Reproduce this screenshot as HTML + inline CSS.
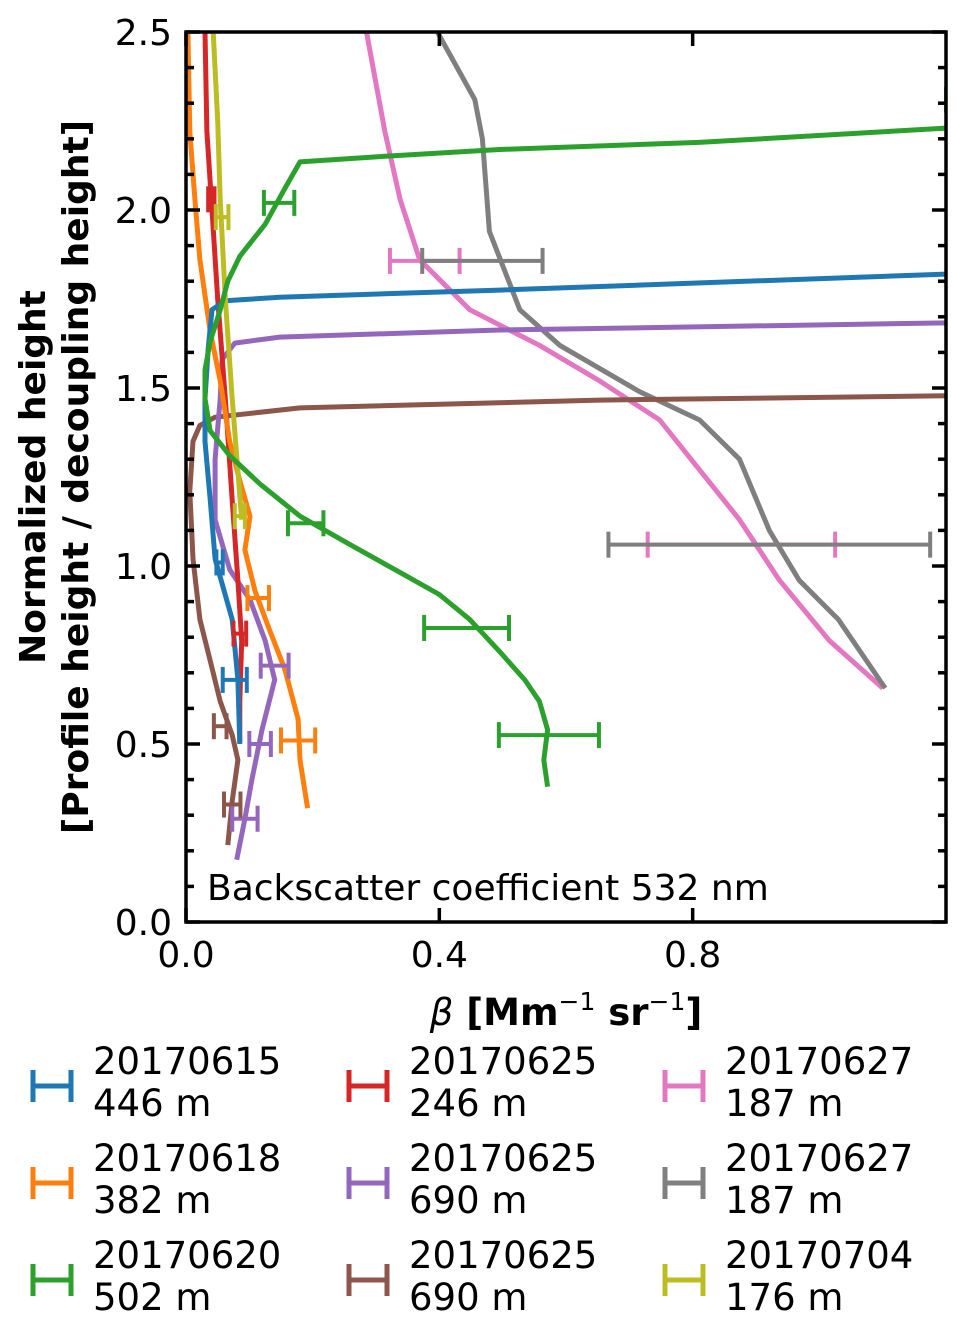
<!DOCTYPE html>
<html><head><meta charset="utf-8"><style>
body{margin:0;background:#fff;}
svg{display:block;font-family:"DejaVu Sans","Liberation Sans",sans-serif;}
</style></head><body>
<svg id="c" width="966" height="1329" xmlns="http://www.w3.org/2000/svg"></svg>
<script>
const seriesNames=["20170615","20170618","20170620","20170625","20170625","20170625","20170627","20170627","20170704"];
const seriesSub=["446 m","382 m","502 m","246 m","690 m","690 m","187 m","187 m","176 m"];
const colors=["#1f77b4","#ff7f0e","#2ca02c","#d62728","#9467bd","#8c564b","#e377c2","#7f7f7f","#bcbd22"];
const xTicks=[0.0,0.4,0.8];
const yTicks=[0.0,0.5,1.0,1.5,2.0,2.5];
const blueX=[0.085,0.082,0.073,0.046,0.038,0.03,0.03,0.035,0.041,0.062,0.148,0.495,1.2];
const blueY=[0.5,0.68,0.85,1.02,1.19,1.35,1.47,1.61,1.72,1.745,1.755,1.775,1.82];
const orangeX=[0.192,0.18,0.177,0.156,0.132,0.109,0.093,0.101,0.085,0.069,0.054,0.038,0.022,0.014,0.006,0.003];
const orangeY=[0.32,0.455,0.57,0.71,0.82,0.93,1.045,1.14,1.24,1.35,1.52,1.66,1.86,2.03,2.22,2.5];
const greenX=[0.571,0.565,0.571,0.558,0.535,0.495,0.448,0.40,0.345,0.259,0.18,0.117,0.069,0.038,0.03,0.03,0.038,0.054,0.066,0.085,0.125,0.156,0.18,0.306,0.495,0.81,1.2];
const greenY=[0.38,0.455,0.54,0.62,0.68,0.76,0.85,0.92,0.975,1.06,1.14,1.23,1.31,1.38,1.47,1.55,1.63,1.72,1.80,1.87,1.96,2.06,2.135,2.15,2.17,2.19,2.23];
const redX=[0.085,0.085,0.088,0.082,0.073,0.062,0.05,0.041,0.033,0.03];
const redY=[0.505,0.62,0.79,0.96,1.185,1.47,1.75,2.0,2.22,2.5];
const purpleX=[0.08,0.093,0.104,0.12,0.14,0.125,0.101,0.069,0.046,0.046,0.054,0.057,0.077,0.148,0.495,1.2];
const purpleY=[0.175,0.29,0.40,0.54,0.68,0.79,0.905,0.99,1.13,1.30,1.47,1.58,1.626,1.643,1.663,1.683];
const brownX=[0.066,0.073,0.082,0.073,0.054,0.038,0.022,0.011,0.006,0.011,0.022,0.046,0.18,0.653,1.2];
const brownY=[0.216,0.34,0.455,0.525,0.62,0.735,0.85,1.02,1.21,1.35,1.395,1.418,1.444,1.466,1.478];
const pinkX=[1.1,1.016,0.937,0.874,0.811,0.748,0.653,0.558,0.448,0.369,0.338,0.314,0.285];
const pinkY=[0.657,0.79,0.96,1.13,1.27,1.41,1.52,1.62,1.72,1.86,2.03,2.22,2.5];
const grayX=[1.104,1.03,0.968,0.921,0.874,0.811,0.716,0.59,0.527,0.479,0.468,0.456,0.397];
const grayY=[0.657,0.85,0.96,1.10,1.30,1.41,1.49,1.62,1.72,1.94,2.2,2.31,2.5];
const oliveX=[0.088,0.073,0.062,0.054,0.05,0.043];
const oliveY=[1.13,1.47,1.75,2.03,2.25,2.5];
const errSeries=[0,0,1,1,2,2,2,2,2,3,3,4,4,4,5,5,6,6,7,7,8,8];
const errX=[0.077,0.053,0.177,0.114,0.147,0.189,0.443,0.573,1.22,0.085,0.04,0.093,0.117,0.14,0.073,0.054,0.377,0.877,0.468,0.921,0.085,0.057];
const errY=[0.68,1.01,0.51,0.91,2.02,1.12,0.826,0.525,2.31,0.81,2.03,0.29,0.5,0.72,0.33,0.55,1.857,1.06,1.857,1.06,1.14,1.98];
const errW=[0.019,0.005,0.027,0.017,0.024,0.028,0.067,0.079,0.02,0.01,0.005,0.02,0.017,0.022,0.013,0.01,0.055,0.148,0.095,0.254,0.008,0.01];
const lines=[[blueX,blueY],[orangeX,orangeY],[greenX,greenY],[redX,redY],[purpleX,purpleY],[brownX,brownY],[pinkX,pinkY],[grayX,grayY],[oliveX,oliveY]];
const drawOrder=[6,7,5,4,3,1,0,8,2];

const NS="http://www.w3.org/2000/svg";
const svg=document.getElementById('c');
const L=186,R=946,T=32,B=922;
const sx=v=>L+v/1.2*(R-L);
const sy=v=>B-v/2.5*(B-T);
function el(tag,attrs,parent){const e=document.createElementNS(NS,tag);for(const k in attrs)e.setAttribute(k,attrs[k]);(parent||svg).appendChild(e);return e;}
const defs=el('defs',{});
const cp=el('clipPath',{id:'clip'},defs);
el('rect',{x:L,y:T,width:R-L,height:B-T},cp);
const plot=el('g',{'clip-path':'url(#clip)'});


drawOrder.forEach(i=>{
  const [xs,ys]=lines[i];
  const d=xs.map((x,j)=>(j?'L':'M')+sx(x).toFixed(1)+' '+sy(ys[j]).toFixed(1)).join(' ');
  const p=el('path',{d:d,fill:'none',stroke:colors[i],'stroke-width':5,'stroke-linejoin':'round'},plot);
  
  
});
errX.forEach((x,k)=>{
  const c=colors[errSeries[k]];
  const y=sy(errY[k]),x1=sx(x-errW[k]),x2=sx(x+errW[k]);
  const g=el('g',{stroke:c,'stroke-width':4,fill:'none'},plot);
  
  
  el('line',{x1:x1,x2:x2,y1:y,y2:y},g);
  el('line',{x1:x1,x2:x1,y1:y-13,y2:y+13},g);
  el('line',{x1:x2,x2:x2,y1:y-13,y2:y+13},g);
});
const fr=el('rect',{x:L,y:T,width:R-L,height:B-T,fill:'none',stroke:'#000','stroke-width':3.5});


for(let k=0;k<=25;k++){
  const v=k/10,y=sy(v),len=(k%5===0)?14:8;
  el('line',{x1:L,x2:L+len,y1:y,y2:y,stroke:'#000','stroke-width':3.5});
  el('line',{x1:R,x2:R-len,y1:y,y2:y,stroke:'#000','stroke-width':3.5});
}
yTicks.forEach(v=>{
  const t=el('text',{x:L-14,y:sy(v)+13,'text-anchor':'end','font-size':36});
  t.textContent=v.toFixed(1);
  
  
});
xTicks.forEach(v=>{
  const x=sx(v);
  el('line',{x1:x,x2:x,y1:B,y2:B-14,stroke:'#000','stroke-width':3.5});
  el('line',{x1:x,x2:x,y1:T,y2:T+14,stroke:'#000','stroke-width':3.5});
  const t=el('text',{x:x,y:B+45,'text-anchor':'middle','font-size':36});
  t.textContent=v.toFixed(1);
  
  
});
</script>
<svg style="position:absolute;left:0;top:0" width="966" height="1329" xmlns="http://www.w3.org/2000/svg" font-family="DejaVu Sans, Liberation Sans, sans-serif">
<text x="207" y="900" font-size="36">Backscatter coefficient 532 nm</text>
<g font-weight="bold" font-size="36" text-anchor="middle">
<text transform="translate(45,477) rotate(-90)">Normalized height</text>
<text transform="translate(88,477) rotate(-90)">[Profile height / decoupling height]</text>
</g>
<text x="566" y="1025" font-size="37" font-weight="bold" text-anchor="middle"><tspan font-style="italic" font-weight="normal">β</tspan> [Mm<tspan dy="-15" font-size="25" font-weight="normal">−1</tspan><tspan dy="15"> sr</tspan><tspan dy="-15" font-size="25" font-weight="normal">−1</tspan><tspan dy="15">]</tspan></text>
</svg>
<script>
(function(){
const NS="http://www.w3.org/2000/svg";
const s=document.querySelectorAll('svg')[1];
const colX=[30,346,662],rowY=[1086,1183,1280];
seriesNames.forEach((n,i)=>{
  const col=Math.floor(i/3),row=i%3,x=colX[col],y=rowY[row];
  const g=document.createElementNS(NS,'g');
  
  
  s.appendChild(g);
  g.innerHTML=`<g stroke="${colors[i]}" stroke-width="5"><line x1="${x+3}" x2="${x+41}" y1="${y}" y2="${y}"/><line x1="${x+3}" x2="${x+3}" y1="${y-16}" y2="${y+16}"/><line x1="${x+41}" x2="${x+41}" y1="${y-16}" y2="${y+16}"/></g><text x="${x+63}" y="${y-12}" font-size="37">${n}</text><text x="${x+63}" y="${y+30}" font-size="37">${seriesSub[i]}</text>`;
});
})();
</script>
</body></html>
